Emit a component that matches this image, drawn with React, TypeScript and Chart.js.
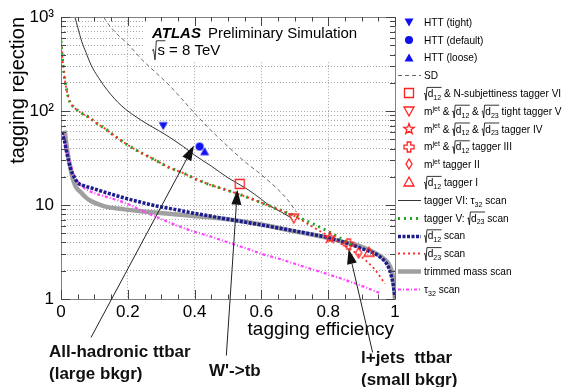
import React, { useEffect, useRef } from 'react';
import { Chart, registerables } from 'chart.js';

Chart.register(...registerables);

const FAM = '"Liberation Sans", Arial, Helvetica, sans-serif';

// ---------------- data ----------------
// SD (dashed)
const sdEff = [0.128, 0.14, 0.17, 0.2, 0.24, 0.28, 0.32, 0.36, 0.4, 0.45, 0.5, 0.55, 0.6, 0.65, 0.68, 0.705];
const sdRej = [1000, 860, 650, 520, 360, 265, 195, 137, 95, 62, 42, 29, 21, 14.6, 11.2, 8.4];

// tagger VI: tau32 scan (thin solid)
const tauVIEff = [0.042, 0.05, 0.062, 0.075, 0.09, 0.112, 0.14, 0.18, 0.24, 0.31, 0.366, 0.4, 0.45, 0.5, 0.56, 0.6, 0.63, 0.66, 0.69];
const tauVIRej = [1000, 780, 553, 420, 310, 228, 165, 115, 80, 57, 42, 34, 26, 19.5, 14.6, 11.5, 9.6, 8.4, 7.3];

// tagger V: sqrt(d23) scan (green)
const tagVEff = [0.0, 0.004, 0.007, 0.012, 0.017, 0.022, 0.027, 0.04, 0.06, 0.082, 0.105, 0.132, 0.165, 0.2, 0.24, 0.281, 0.32, 0.366, 0.41, 0.45, 0.5, 0.55, 0.6, 0.65, 0.7, 0.75, 0.8, 0.85, 0.87];
const tagVRej = [560, 370, 290, 210, 168, 140, 124, 109, 96, 86.5, 75, 65, 53, 43.6, 36, 30.3, 25.5, 21.9, 18.5, 16.3, 14.3, 12.4, 10.6, 9.0, 7.7, 6.4, 5.25, 4.15, 3.8];

// sqrt(d23) scan (red dotted)
const d23Eff = [0.0, 0.004, 0.007, 0.012, 0.017, 0.022, 0.027, 0.04, 0.06, 0.082, 0.105, 0.132, 0.165, 0.2, 0.24, 0.281, 0.32, 0.366, 0.41, 0.45, 0.5, 0.55, 0.6, 0.65, 0.7, 0.75, 0.8, 0.85, 0.9, 0.94, 0.97];
const d23Rej = [560, 370, 290, 210, 168, 140, 124, 109, 96, 86.5, 75, 65, 53, 43.6, 36, 30.3, 25.5, 21.9, 18.5, 16.3, 14.3, 12.4, 10.6, 9.0, 7.6, 5.95, 4.7, 3.65, 2.8, 2.05, 1.45];

// sqrt(d12) scan (blue dotted)
const d12Eff = [0.003, 0.007, 0.011, 0.016, 0.021, 0.028, 0.036, 0.051, 0.07, 0.091, 0.14, 0.19, 0.24, 0.29, 0.34, 0.39, 0.45, 0.5, 0.55, 0.6, 0.65, 0.7, 0.75, 0.8, 0.85, 0.9, 0.93, 0.95, 0.97, 0.98, 0.99, 0.995, 1.0];
const d12Rej = [60, 53, 47, 38, 31.5, 25, 21, 17.2, 16, 15.2, 13.4, 11.9, 10.7, 9.7, 9.0, 8.3, 7.6, 7.05, 6.6, 6.15, 5.7, 5.3, 4.9, 4.5, 4.0, 3.45, 3.15, 2.9, 2.5, 2.2, 1.7, 1.4, 1.05];

// trimmed mass scan (gray)
const trimEff = [0.011, 0.016, 0.021, 0.028, 0.036, 0.045, 0.061, 0.075, 0.091, 0.115, 0.14, 0.19, 0.24, 0.29, 0.34, 0.39, 0.45, 0.5, 0.6, 0.7, 0.8, 0.85, 0.9, 0.95, 0.98, 0.99, 0.995, 1.0];
const trimRej = [62, 45, 34, 25, 18.6, 15.5, 13.5, 12.0, 11, 10.1, 9.5, 9.0, 8.6, 8.3, 8.0, 7.7, 7.35, 7.05, 6.2, 5.25, 4.45, 4.0, 3.6, 2.95, 2.4, 2.0, 1.6, 1.0];

// tau32 scan (magenta)
const tau32Eff = [0.008, 0.015, 0.022, 0.03, 0.038, 0.046, 0.06, 0.075, 0.091, 0.14, 0.19, 0.24, 0.29, 0.34, 0.39, 0.45, 0.5, 0.55, 0.6, 0.65, 0.7, 0.75, 0.8, 0.85, 0.9, 0.954];
const tau32Rej = [55, 42, 33, 26, 21.5, 18.6, 16.2, 14.8, 13.8, 12.1, 10.6, 8.8, 7.36, 6.2, 5.33, 4.6, 4.0, 3.5, 3.03, 2.7, 2.37, 2.08, 1.83, 1.6, 1.38, 1.16];

// HTT working points: tight, default, loose
const httEff = [0.306, 0.415, 0.43];
const httRej = [70, 42, 37];

// taggers VI, V, IV, III, II, I
const taggerEff = [0.535, 0.697, 0.805, 0.861, 0.891, 0.922];
const taggerRej = [16.8, 7.25, 4.5, 3.85, 3.1, 3.15];

// axis ticks
const xTickValues = [0, 0.2, 0.4, 0.6, 0.8, 1];
const xTickLabels = ['0', '0.2', '0.4', '0.6', '0.8', '1'];
const yMajorValues = [1, 10, 100, 1000];
const yTickLabels = ['1', '10', '10\u00B2', '10\u00B3'];

// annotation arrows (tail -> tip, in data units)
const arrowTailEff = [0.09, 0.495, 0.933];
const arrowTailRej = [0.39, 0.25, 0.27];
const arrowTipEff = [0.398, 0.528, 0.861];
const arrowTipRej = [43, 14.6, 3.4];

// ---------------- styling helpers ----------------
const RED = '#ff2020';
const BLUE = '#1010f0';

function makeMarker(kind: string, color: string): HTMLCanvasElement {
  const c = document.createElement('canvas');
  c.width = 14;
  c.height = 14;
  const g = c.getContext('2d')!;
  g.translate(7, 7);
  g.strokeStyle = color;
  g.fillStyle = color;
  g.lineWidth = 1.3;
  g.beginPath();
  switch (kind) {
    case 'tdown':
      g.moveTo(-4.5, -3.5); g.lineTo(4.5, -3.5); g.lineTo(0, 4.5); g.closePath(); g.fill(); break;
    case 'tup':
      g.moveTo(-4.5, 3.5); g.lineTo(4.5, 3.5); g.lineTo(0, -4.5); g.closePath(); g.fill(); break;
    case 'circle':
      g.arc(0, 0, 4, 0, Math.PI * 2); g.fill(); break;
    case 'osquare':
      g.rect(-4.5, -4.5, 9, 9); g.stroke(); break;
    case 'otdown':
      g.moveTo(-5, -4); g.lineTo(5, -4); g.lineTo(0, 5); g.closePath(); g.stroke(); break;
    case 'otup':
      g.moveTo(-5, 4); g.lineTo(5, 4); g.lineTo(0, -5); g.closePath(); g.stroke(); break;
    case 'ostar': {
      for (let i = 0; i < 10; i++) {
        const r = i % 2 ? 2.2 : 5.5;
        const a = -Math.PI / 2 + (i * Math.PI) / 5;
        const px = r * Math.cos(a), py = r * Math.sin(a);
        if (i === 0) g.moveTo(px, py); else g.lineTo(px, py);
      }
      g.closePath(); g.stroke(); break;
    }
    case 'ocross': {
      const a = 1.8, L = 5;
      const pts = [[-a, -L], [a, -L], [a, -a], [L, -a], [L, a], [a, a], [a, L], [-a, L], [-a, a], [-L, a], [-L, -a], [-a, -a]];
      pts.forEach((p, i) => (i ? g.lineTo(p[0], p[1]) : g.moveTo(p[0], p[1])));
      g.closePath(); g.stroke(); break;
    }
    case 'odiamond':
      g.moveTo(0, -5); g.lineTo(3, 0); g.lineTo(0, 5); g.lineTo(-3, 0); g.closePath(); g.stroke(); break;
  }
  return c;
}

type Node = { k: 'txt'; s: string } | { k: 'sub' | 'sup' | 'sqrt'; c: Node[] };

function parseRich(s: string): Node[] {
  let i = 0;
  function group(): Node[] {
    const out: Node[] = [];
    let buf = '';
    const flush = () => { if (buf) { out.push({ k: 'txt', s: buf }); buf = ''; } };
    while (i < s.length) {
      const ch = s[i];
      if (ch === '}') { i++; break; }
      if (s.startsWith('#sqrt{', i)) { flush(); i += 6; out.push({ k: 'sqrt', c: group() }); continue; }
      if ((ch === '_' || ch === '^') && s[i + 1] === '{') {
        flush(); i += 2; out.push({ k: ch === '_' ? 'sub' : 'sup', c: group() }); continue;
      }
      buf += ch; i++;
    }
    flush();
    return out;
  }
  return group();
}

function drawRich(ctx: CanvasRenderingContext2D, nodes: Node[], x: number, y: number, size: number, draw: boolean): number {
  let cx = x;
  for (const n of nodes) {
    if (n.k === 'txt') {
      ctx.font = `${size}px ${FAM}`;
      const w = ctx.measureText(n.s).width;
      if (draw) ctx.fillText(n.s, cx, y);
      cx += w;
    } else if (n.k === 'sub') {
      cx += drawRich(ctx, n.c, cx, y + size * 0.28, size * 0.7, draw);
    } else if (n.k === 'sup') {
      cx += drawRich(ctx, n.c, cx, y - size * 0.42, size * 0.7, draw);
    } else {
      const off = size * 0.36;
      const cw = drawRich(ctx, n.c, cx + off, y, size, false);
      if (draw) {
        const top = y - size * 0.95, bot = y + size * 0.32;
        ctx.beginPath();
        ctx.moveTo(cx, y - size * 0.3);
        ctx.lineTo(cx + size * 0.1, y - size * 0.38);
        ctx.lineTo(cx + size * 0.2, bot);
        ctx.lineTo(cx + size * 0.29, top);
        ctx.lineTo(cx + off + cw + 0.5, top);
        ctx.lineWidth = 0.8;
        ctx.strokeStyle = ctx.fillStyle as string;
        ctx.stroke();
        drawRich(ctx, n.c, cx + off, y, size, true);
      }
      cx += off + cw;
    }
  }
  return cx - x;
}

const pts = (xs: number[], ys: number[]) => xs.map((x, i) => ({ x, y: ys[i] }));

type LineStyle = { color: string; width: number; dash: number[] };
const styles: Record<string, LineStyle> = {
  sd: { color: '#666666', width: 1, dash: [4, 3] },
  tauVI: { color: '#333333', width: 1, dash: [] },
  tagV: { color: '#1fa81f', width: 3, dash: [2, 4] },
  d12: { color: '#1c1c8e', width: 3.5, dash: [3, 1.5] },
  d23: { color: '#ff2a2a', width: 1.8, dash: [2, 3] },
  trim: { color: '#a0a0a0', width: 4.5, dash: [] },
  tau32: { color: '#ff44ff', width: 2.2, dash: [3, 2, 1, 2] },
};

const legendLabels = [
  'HTT (tight)',
  'HTT (default)',
  'HTT (loose)',
  'SD',
  '#sqrt{d_{12}} & N-subjettiness tagger VI',
  'm^{jet} & #sqrt{d_{12}} & #sqrt{d_{23}} tight tagger V',
  'm^{jet} & #sqrt{d_{12}} & #sqrt{d_{23}} tagger IV',
  'm^{jet} & #sqrt{d_{12}} tagger III',
  'm^{jet} tagger II',
  '#sqrt{d_{12}} tagger I',
  'tagger VI: \u03C4_{32} scan',
  'tagger V: #sqrt{d_{23}} scan',
  '#sqrt{d_{12}} scan',
  '#sqrt{d_{23}} scan',
  'trimmed mass scan',
  '\u03C4_{32} scan',
];
const legendSymbols = ['tdown', 'circle', 'tup', 'sd', 'osquare', 'otdown', 'ostar', 'ocross', 'odiamond', 'otup', 'tauVI', 'tagV', 'd12', 'd23', 'trim', 'tau32'];
const httMarkers = ['tdown', 'circle', 'tup'];
const taggerMarkers = ['osquare', 'otdown', 'ostar', 'ocross', 'odiamond', 'otup'];

export default function App() {
  const ref = useRef<HTMLCanvasElement | null>(null);

  useEffect(() => {
    const canvas = ref.current!;
    const markerCache: Record<string, HTMLCanvasElement> = {};
    const marker = (k: string) => {
      if (!markerCache[k]) markerCache[k] = makeMarker(k, httMarkers.includes(k) ? BLUE : RED);
      return markerCache[k];
    };

    const lineDs = (key: string, xs: number[], ys: number[], order: number) => ({
      label: key,
      data: pts(xs, ys),
      showLine: true,
      borderColor: styles[key].color,
      backgroundColor: styles[key].color,
      borderWidth: styles[key].width,
      borderDash: styles[key].dash,
      pointRadius: 0,
      pointHoverRadius: 0,
      cubicInterpolationMode: 'monotone' as const,
      order,
    });

    const markerDs = httEff
      .map((x, i) => ({ label: httMarkers[i], data: [{ x, y: httRej[i] }], showLine: false, pointStyle: marker(httMarkers[i]), pointRadius: 5, order: 0 }))
      .concat(taggerEff.map((x, i) => ({ label: taggerMarkers[i], data: [{ x, y: taggerRej[i] }], showLine: false, pointStyle: marker(taggerMarkers[i]), pointRadius: 5, order: 0 })));

    const datasets: any[] = [
      ...markerDs,
      lineDs('d23', d23Eff, d23Rej, 1),
      lineDs('tagV', tagVEff, tagVRej, 2),
      lineDs('tauVI', tauVIEff, tauVIRej, 3),
      lineDs('sd', sdEff, sdRej, 4),
      lineDs('d12', d12Eff, d12Rej, 5),
      lineDs('tau32', tau32Eff, tau32Rej, 6),
      lineDs('trim', trimEff, trimRej, 7),
    ];

    const yGrid: number[] = [];
    for (const d of [1, 10, 100]) for (let m = 1; m <= 9; m++) yGrid.push(d * m);
    yGrid.push(1000);

    const overlay = {
      id: 'atlasOverlay',
      beforeDatasetsDraw(chart: any) {
        const { ctx, chartArea: a } = chart;
        ctx.save();
        ctx.fillStyle = '#ffffff';
        ctx.fillRect(143, a.top + 1, a.right - 145, 43);
        ctx.restore();
      },
      afterDraw(chart: any) {
        const { ctx, chartArea: a, scales } = chart;
        const xs = scales.x, ys = scales.y;
        ctx.save();
        // frame
        ctx.strokeStyle = '#808080';
        ctx.lineWidth = 1;
        ctx.setLineDash([]);
        const L = Math.round(a.left), T = Math.round(a.top), R = Math.round(a.right), B = Math.round(a.bottom);
        ctx.strokeRect(L + 0.5, T + 0.5, R - L, B - T);
        // inward tick marks
        ctx.strokeStyle = '#444';
        ctx.beginPath();
        for (let i = 0; i <= 20; i++) {
          const px = Math.round(xs.getPixelForValue(i / 20)) + 0.5;
          const len = i % 4 === 0 ? 9 : 4.5;
          ctx.moveTo(px, B); ctx.lineTo(px, B - len);
          ctx.moveTo(px, T); ctx.lineTo(px, T + len);
        }
        for (const v of yGrid) {
          const py = Math.round(ys.getPixelForValue(v)) + 0.5;
          const len = yMajorValues.includes(v) ? 9 : 5;
          ctx.moveTo(L, py); ctx.lineTo(L + len, py);
          ctx.moveTo(R, py); ctx.lineTo(R - len, py);
        }
        ctx.stroke();

        // ATLAS label
        ctx.fillStyle = '#000';
        ctx.textAlign = 'left';
        ctx.textBaseline = 'alphabetic';
        ctx.font = `italic bold 15px ${FAM}`;
        ctx.fillText('ATLAS', 152, 38);
        ctx.font = `15px ${FAM}`;
        ctx.fillText('Preliminary Simulation', 208, 38);
        drawRich(ctx, parseRich('#sqrt{s} = 8 TeV'), 152, 55, 15, true);

        // axis titles
        ctx.fillStyle = '#000';
        ctx.font = `19px ${FAM}`;
        ctx.textAlign = 'right';
        ctx.fillText('tagging efficiency', 394, 335);
        ctx.save();
        ctx.translate(24, T);
        ctx.rotate(-Math.PI / 2);
        ctx.font = `20px ${FAM}`;
        ctx.textAlign = 'right';
        ctx.fillText('tagging rejection', 0, 0);
        ctx.restore();

        // legend
        ctx.textAlign = 'left';
        legendLabels.forEach((lab, i) => {
          const yc = 22 + i * 17.8;
          const sym = legendSymbols[i];
          if (styles[sym]) {
            const st = styles[sym];
            ctx.save();
            ctx.strokeStyle = st.color;
            ctx.lineWidth = st.width;
            ctx.setLineDash(st.dash);
            ctx.beginPath();
            ctx.moveTo(398, Math.round(yc) + 0.5);
            ctx.lineTo(421, Math.round(yc) + 0.5);
            ctx.stroke();
            ctx.restore();
          } else {
            ctx.drawImage(marker(sym), 409 - 7, Math.round(yc) - 7);
          }
          ctx.fillStyle = '#000';
          drawRich(ctx, parseRich(lab), 424, yc + 3.8, 10.1, true);
        });

        // arrows
        ctx.fillStyle = '#111';
        ctx.strokeStyle = '#222';
        ctx.lineWidth = 1;
        ctx.setLineDash([]);
        arrowTipEff.forEach((_, i) => {
          const x1 = xs.getPixelForValue(arrowTailEff[i]);
          const y1 = ys.getPixelForValue(arrowTailRej[i]);
          const x2 = xs.getPixelForValue(arrowTipEff[i]);
          const y2 = ys.getPixelForValue(arrowTipRej[i]);
          const dx = x2 - x1, dy = y2 - y1;
          const len = Math.hypot(dx, dy);
          const ux = dx / len, uy = dy / len;
          const hl = 15, hw = 5;
          const bx = x2 - ux * hl, by = y2 - uy * hl;
          ctx.beginPath();
          ctx.moveTo(x1, y1);
          ctx.lineTo(bx, by);
          ctx.stroke();
          ctx.beginPath();
          ctx.moveTo(x2, y2);
          ctx.lineTo(bx - uy * hw, by + ux * hw);
          ctx.lineTo(bx + uy * hw, by - ux * hw);
          ctx.closePath();
          ctx.fill();
        });

        // annotation texts
        ctx.fillStyle = '#111';
        ctx.font = `bold 17px ${FAM}`;
        ctx.textAlign = 'left';
        ctx.fillText('All-hadronic ttbar', 49, 357);
        ctx.fillText('(large bkgr)', 49, 379);
        ctx.fillText("W'->tb", 209, 376);
        ctx.fillText('l+jets  ttbar', 361, 363);
        ctx.fillText('(small bkgr)', 361, 385);
        ctx.restore();
      },
    };

    const chart = new Chart(canvas, {
      type: 'scatter',
      data: { datasets },
      options: {
        responsive: false,
        animation: false,
        devicePixelRatio: 1,
        layout: { padding: { top: 13, right: 172, left: 0, bottom: 0 } },
        plugins: { legend: { display: false }, tooltip: { enabled: false } },
        events: [],
        scales: {
          x: {
            type: 'linear',
            min: 0,
            max: 1,
            afterFit: (s: any) => { s.height = 88; },
            afterBuildTicks: (s: any) => { s.ticks = xTickValues.map((v) => ({ value: v })); },
            ticks: {
              autoSkip: false,
              maxRotation: 0,
              padding: 3,
              color: '#000',
              font: { family: FAM, size: 17 },
              callback: (v: any) => {
                const i = xTickValues.findIndex((t) => Math.abs(t - v) < 1e-9);
                return i >= 0 ? xTickLabels[i] : '';
              },
            },
            grid: { drawTicks: false, color: '#a8a8a8', lineWidth: 1 },
            border: { display: false, dash: [1, 2] },
          },
          y: {
            type: 'logarithmic',
            min: 1,
            max: 1000,
            afterFit: (s: any) => { s.width = 61; },
            afterBuildTicks: (s: any) => { s.ticks = yGrid.map((v) => ({ value: v })); },
            ticks: {
              autoSkip: false,
              padding: 7,
              color: '#000',
              font: { family: FAM, size: 17 },
              callback: (v: any) => {
                const i = yMajorValues.indexOf(Number(v));
                return i >= 0 ? yTickLabels[i] : '';
              },
            },
            grid: { drawTicks: false, color: '#a8a8a8', lineWidth: 1 },
            border: { display: false, dash: [1, 2] },
          },
        },
      } as any,
      plugins: [overlay],
    });

    return () => chart.destroy();
  }, []);

  return (
    <div style={{ position: 'fixed', left: 0, top: 0, width: 567, height: 387, background: '#fff' }}>
      <canvas ref={ref} width={567} height={387} style={{ display: 'block', width: 567, height: 387 }} />
    </div>
  );
}
